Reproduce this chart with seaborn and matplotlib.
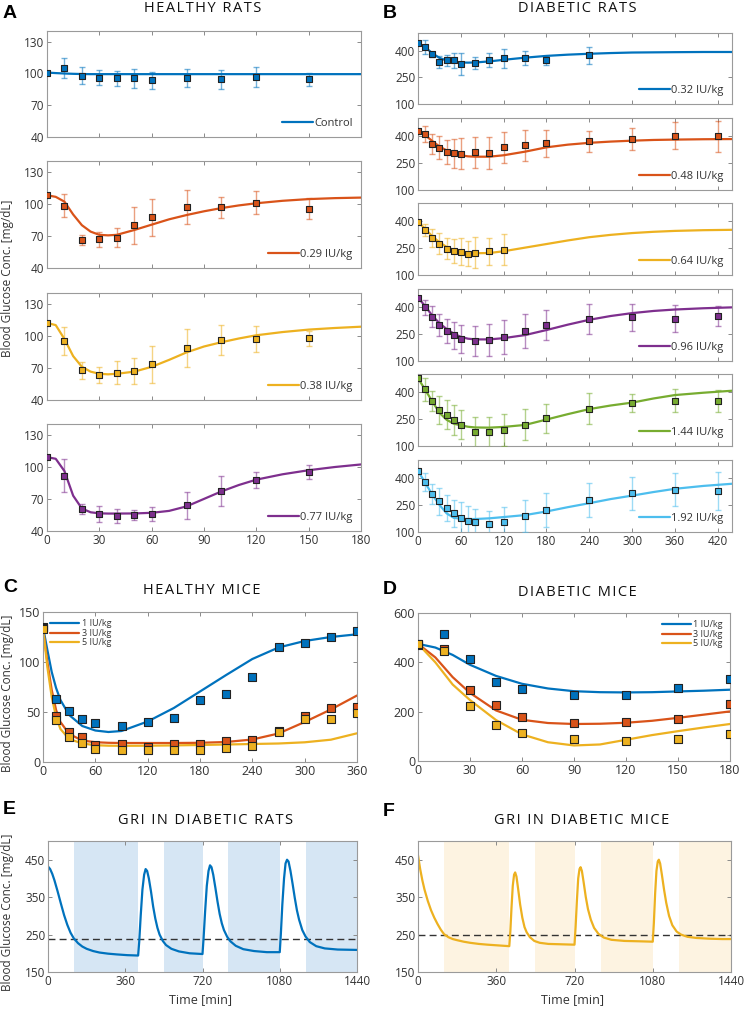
import matplotlib
matplotlib.use("Agg")
import matplotlib.pyplot as plt
import seaborn as sns
from matplotlib.colors import to_rgba

# ---------------- DATA ----------------
# Panel A: healthy rats
A_t = [0, 10, 20, 30, 40, 50, 60, 80, 100, 120, 150]
A_ctrl_y = [100.6, 104.7, 97.8, 96.0, 95.3, 95.6, 93.7, 96.0, 94.3, 96.5, 94.3]
A_ctrl_e = [0, 9.5, 8, 7, 7, 9, 8, 8.5, 9, 9.5, 6]
A_029_y = [108.1, 98.4, 66.4, 66.7, 68.5, 79.8, 87.2, 96.9, 96.6, 101.2, 95.6]
A_029_e = [0, 11, 4.5, 7, 9, 17, 17.5, 16, 10, 10.5, 10]
A_038_y = [112.1, 95.3, 67.7, 63.4, 65.6, 67.1, 73.3, 88.5, 96.0, 96.9, 97.5]
A_038_e = [0, 13, 8, 7.5, 10.5, 12.5, 17, 18, 14, 12, 7]
A_077_y = [109.0, 91.6, 60.6, 56.2, 54.3, 55.0, 56.2, 64.0, 77.3, 87.9, 95.0]
A_077_e = [0, 15.5, 5, 7.5, 6.5, 5, 6.5, 12.8, 14, 7.5, 6.5]

A_fit_t = [0, 5, 10, 15, 20, 25, 30, 35, 40, 50, 60, 70, 80, 90, 100, 110, 120, 135, 150, 165, 180]
A_ctrl_fit = [100.8, 100.3, 99.9, 99.6, 99.4, 99.3, 99.3, 99.3, 99.3, 99.3, 99.3, 99.3, 99.3, 99.3,
              99.3, 99.3, 99.3, 99.3, 99.3, 99.3, 99.3]
A_029_fit = [108, 106.5, 102, 90, 80, 74, 71, 70.5, 71, 75.5, 80.5, 85.5, 89.5, 93, 96, 98.5,
             100.5, 102.8, 104.4, 105.3, 105.8]
A_038_fit = [112, 110, 97, 81, 71, 66.5, 64.5, 64, 64.5, 66.5, 71, 77.5, 84.5, 90, 94, 97.5,
             100.5, 103.5, 105.8, 107.3, 108.5]
A_077_fit = [109, 107.5, 96, 73, 61, 57.5, 56.5, 56.3, 56.3, 56.4, 57, 58.8, 63, 70, 77, 83,
             88, 93, 96.8, 99.8, 102.2]
A_labels = ["Control", "0.29 IU/kg", "0.38 IU/kg", "0.77 IU/kg"]

# Panel B: diabetic rats
B_t = [0, 10, 20, 30, 40, 50, 60, 80, 100, 120, 150, 180, 240, 300, 360, 420]
B1_t = [0, 10, 20, 30, 40, 50, 60, 80, 100, 120, 150, 180, 240]
B1_y = [441, 421, 379, 338, 346, 346, 327, 331, 348, 357, 359, 346, 374]
B1_e = [0, 39, 12, 34, 31, 44, 63, 31, 38, 53, 39, 27, 49]
B2_y = [430, 411, 355, 335, 312, 303, 301, 309, 307, 337, 348, 359, 370, 383, 402, 398]
B2_e = [0, 44, 54, 63, 68, 78, 86, 85, 88, 85, 86, 76, 60, 62, 75, 85]
B3_t = [0, 10, 20, 30, 40, 50, 60, 70, 80, 100, 120]
B3_y = [392, 349, 305, 274, 246, 233, 230, 218, 225, 231, 241]
B3_e = [0, 35, 52, 58, 58, 66, 74, 69, 85, 76, 88]
B4_y = [452, 398, 346, 301, 267, 243, 222, 211, 218, 233, 267, 301, 334, 342, 336, 351]
B4_e = [0, 40, 58, 60, 69, 75, 80, 84, 89, 93, 96, 85, 84, 76, 73, 54]
B5_y = [476, 415, 348, 299, 275, 244, 218, 178, 178, 188, 219, 253, 307, 340, 352, 350]
B5_e = [0, 63, 55, 79, 82, 84, 80, 84, 84, 90, 85, 81, 86, 51, 65, 59]
B6_t = [0, 10, 20, 30, 40, 50, 60, 70, 80, 100, 120, 150, 180, 240, 300, 360, 420]
B6_y = [438, 377, 313, 272, 234, 204, 178, 163, 153, 144, 157, 189, 223, 278, 315, 336, 328]
B6_e = [0, 50, 55, 75, 72, 75, 87, 80, 75, 70, 80, 89, 94, 94, 92, 92, 107]

B_fit_t = [0, 10, 20, 30, 40, 50, 60, 70, 80, 100, 120, 150, 180, 210, 240, 270, 300, 330, 360, 400, 440]
B1_fit = [441, 420, 386, 360, 345, 337, 334, 333, 334, 340, 349, 361, 371, 378, 383, 387, 390, 391, 392, 393, 393]
B2_fit = [430, 405, 372, 342, 320, 303, 293, 287, 285, 285, 293, 313, 337, 352, 362, 369, 374, 378, 380, 382, 383]
B3_fit = [393, 357, 315, 282, 256, 239, 229, 223, 221, 222, 232, 252, 272, 292, 310, 323, 333, 340, 345, 349, 351]
B4_fit = [452, 405, 352, 310, 278, 252, 234, 224, 220, 220, 227, 244, 272, 302, 329, 350, 366, 378, 386, 393, 398]
B5_fit = [477, 413, 348, 285, 246, 224, 215, 207, 203, 202, 206, 217, 247, 277, 305, 325, 341, 364, 383, 396, 407]
B6_fit = [440, 374, 308, 251, 204, 179, 173, 172, 172, 176, 183, 194, 214, 238, 260, 283, 302, 322, 340, 356, 368]
B_labels = ["0.32 IU/kg", "0.48 IU/kg", "0.64 IU/kg", "0.96 IU/kg", "1.44 IU/kg", "1.92 IU/kg"]

# Panel C: healthy mice
C_t = [0, 15, 30, 45, 60, 90, 120, 150, 180, 210, 240, 270, 300, 330, 360]
C1_y = [135, 63.3, 50.7, 43, 39.3, 35.7, 39.7, 44.3, 62.3, 68, 85, 114.7, 119.3, 124.7, 131.3]
C3_y = [134, 46, 30.3, 25, 17.3, 17.7, 14.7, 18, 18, 21.3, 22.3, 30.7, 45.7, 53.7, 54.7]
C5_y = [133, 42.3, 25.3, 19, 13, 12, 12, 12.3, 12.3, 13.7, 15.7, 30, 43, 43, 48.7]
C_fit_t = [0, 5, 10, 15, 20, 30, 45, 60, 75, 90, 120, 150, 180, 210, 240, 270, 300, 330, 360]
C1_fit = [135, 112, 90, 74, 62, 47, 36, 31.5, 30, 31, 40.5, 54, 70.5, 87, 103, 114.5, 121, 125, 127.7]
C3_fit = [134, 100, 72, 52, 40, 28, 21.5, 19.8, 19.2, 19, 19, 19, 19.2, 20, 22.5, 28.5, 40, 52.5, 66.5]
C5_fit = [134, 95, 65, 45, 33, 23, 18.5, 16.8, 16.3, 16.2, 16.3, 16.6, 17, 17.5, 18, 18.5, 19.7, 22.3, 28.7]
mice_labels = ["1 IU/kg", "3 IU/kg", "5 IU/kg"]

# Panel D: diabetic mice
D_t = [0, 15, 30, 45, 60, 90, 120, 150, 180]
D1_y = [473, 514, 412, 321, 293, 268, 268, 297, 334]
D3_y = [470, 455, 289, 227, 177, 154, 158, 172, 233]
D5_y = [474, 447, 225, 144, 115, 90, 83, 89, 111]
D_fit_t = [0, 10, 20, 30, 45, 60, 75, 90, 105, 120, 135, 150, 165, 180]
D1_fit = [475, 460, 430, 390, 345, 313, 294, 283, 279, 278, 279, 282, 285, 289]
D3_fit = [475, 420, 340, 276, 205, 167, 154, 150, 151, 155, 163, 175, 188, 201]
D5_fit = [475, 400, 310, 247, 166, 108, 76, 63, 67, 86, 105, 121, 136, 150]

# Panel E: GRI in diabetic rats (simulated profile)
E_t = [0, 10, 20, 30, 45, 60, 75, 90, 105, 120, 140, 160, 180, 210, 240, 280, 320, 370, 420,
       425, 432, 440, 448, 455, 462, 470, 480, 490, 500, 510, 520, 535, 550, 575, 610, 660, 720,
       725, 732, 740, 748, 755, 762, 770, 780, 790, 800, 810, 820, 835, 850, 875, 910, 960, 1020, 1080,
       1085, 1092, 1100, 1107, 1114, 1121, 1130, 1140, 1150, 1160, 1170, 1185, 1200, 1220, 1250, 1290, 1350, 1440]
E_y = [432, 425, 412, 395, 365, 333, 302, 276, 255, 240, 227, 218, 212, 206, 202, 199, 197, 195, 194,
       230, 300, 370, 410, 425, 420, 400, 365, 325, 293, 268, 250, 233, 222, 212, 205, 200, 198,
       240, 310, 380, 420, 435, 430, 410, 375, 338, 305, 280, 262, 244, 232, 220, 211, 206, 203, 203,
       250, 330, 400, 440, 450, 445, 420, 385, 348, 315, 290, 262, 245, 230, 219, 213, 210, 209]
E_bands = [(120, 420), (540, 720), (840, 1080), (1200, 1440)]
E_thresh = 238

# Panel F: GRI in diabetic mice (simulated profile)
F_t = [0, 10, 20, 30, 45, 60, 75, 90, 105, 120, 140, 160, 180, 210, 240, 280, 320, 370, 420,
       425, 430, 436, 442, 447, 453, 460, 470, 480, 490, 500, 515, 535, 560, 600, 660, 720,
       725, 731, 737, 743, 748, 754, 762, 772, 782, 795, 810, 830, 855, 890, 950, 1020, 1080,
       1085, 1091, 1097, 1103, 1108, 1114, 1122, 1132, 1142, 1155, 1170, 1190, 1210, 1240, 1280, 1340, 1400, 1440]
F_y = [462, 425, 395, 370, 340, 315, 295, 278, 263, 251, 243, 238, 235, 231, 228, 225, 223, 221, 219,
       260, 320, 380, 410, 416, 405, 375, 330, 295, 270, 256, 243, 233, 228, 225, 224, 223,
       270, 340, 400, 425, 430, 420, 390, 350, 318, 290, 268, 252, 242, 236, 233, 232, 231,
       280, 360, 420, 445, 450, 440, 410, 370, 335, 300, 275, 258, 250, 244, 241, 239, 238, 238]
F_bands = [(120, 420), (540, 720), (840, 1080), (1200, 1440)]
F_thresh = 250

# ---------------- STYLE ----------------
sns.set_theme(style="white")
plt.rcParams["font.family"] = ["Open Sans", "DejaVu Sans"]
plt.rcParams["axes.edgecolor"] = "#9a9a9a"
plt.rcParams["axes.linewidth"] = 0.8
plt.rcParams["xtick.color"] = "#8a8a8a"
plt.rcParams["ytick.color"] = "#8a8a8a"
plt.rcParams["xtick.labelcolor"] = "#333333"
plt.rcParams["ytick.labelcolor"] = "#333333"

BLUE, ORANGE, YELLOW = "#0072BD", "#D95319", "#EDB120"
PURPLE, GREEN, LBLUE = "#7E2F8E", "#77AC30", "#4DBEEE"

W, H = 746, 1010
fig = plt.figure(figsize=(W / 100, H / 100), dpi=100)


def add_ax(l, t, r, b):
    return fig.add_axes([l / W, 1 - b / H, (r - l) / W, (b - t) / H])


def style_ax(ax, fs):
    ax.tick_params(direction="in", top=True, right=True, length=3, width=0.7,
                   labelsize=fs, pad=2, bottom=True, left=True)
    for s in ax.spines.values():
        s.set_visible(True)
        s.set_color("#9a9a9a")


def draw_series(ax, t, y, e, ft, fy, color, label, ms=20):
    sns.lineplot(x=ft, y=fy, ax=ax, color=color, lw=1.6, label=label, zorder=2)
    if e is not None:
        ax.errorbar(t, y, yerr=e, fmt="none", ecolor=to_rgba(color, 0.55),
                    elinewidth=1.0, capsize=2.2, capthick=1.0, zorder=3)
    sns.scatterplot(x=t, y=y, ax=ax, marker="s", color=color, edgecolor="#222222",
                    linewidth=0.8, s=ms, zorder=4, legend=False)


def small_legend(ax, fs, loc="lower right"):
    ax.legend(loc=loc, frameon=False, fontsize=fs, handlelength=2.8,
              handletextpad=0.1, borderaxespad=0.35, labelcolor="#333333")


def spaced(s):
    return "\u200a".join(s)


# ---------------- PANEL A ----------------
A_rows = [(31, 137), (161, 268), (293, 400), (424, 531)]
A_sets = [(A_ctrl_y, A_ctrl_e, A_ctrl_fit, BLUE), (A_029_y, A_029_e, A_029_fit, ORANGE),
          (A_038_y, A_038_e, A_038_fit, YELLOW), (A_077_y, A_077_e, A_077_fit, PURPLE)]
for i, ((top, bot), (yy, ee, ff, col)) in enumerate(zip(A_rows, A_sets)):
    ax = add_ax(47, top, 361, bot)
    draw_series(ax, A_t, yy, ee, A_fit_t, ff, col, A_labels[i], ms=22)
    ax.set_xlim(0, 180)
    ax.set_ylim(40, 140)
    ax.set_yticks([40, 70, 100, 130])
    ax.set_xticks(range(0, 181, 30))
    style_ax(ax, 8.5)
    small_legend(ax, 8)
    if i < 3:
        ax.tick_params(labelbottom=False)

# ---------------- PANEL B ----------------
B_rows = [(33, 104), (118, 190), (203, 275), (289, 361), (374, 446), (460, 532)]
B_sets = [(B1_t, B1_y, B1_e, B1_fit, BLUE), (B_t, B2_y, B2_e, B2_fit, ORANGE),
          (B3_t, B3_y, B3_e, B3_fit, YELLOW), (B_t, B4_y, B4_e, B4_fit, PURPLE),
          (B_t, B5_y, B5_e, B5_fit, GREEN), (B6_t, B6_y, B6_e, B6_fit, LBLUE)]
for i, ((top, bot), (tt, yy, ee, ff, col)) in enumerate(zip(B_rows, B_sets)):
    ax = add_ax(418, top, 732, bot)
    draw_series(ax, tt, yy, ee, B_fit_t, ff, col, B_labels[i], ms=20)
    ax.set_xlim(0, 440)
    ax.set_ylim(100, 500)
    ax.set_yticks([100, 250, 400])
    ax.set_xticks(range(0, 421, 60))
    style_ax(ax, 8.5)
    small_legend(ax, 8)
    if i < 5:
        ax.tick_params(labelbottom=False)

# ---------------- PANEL C ----------------
axc = add_ax(43, 612, 357, 762)
for yy, ff, col, lab in zip([C1_y, C3_y, C5_y], [C1_fit, C3_fit, C5_fit],
                            [BLUE, ORANGE, YELLOW], mice_labels):
    draw_series(axc, C_t, yy, None, C_fit_t, ff, col, lab, ms=28)
axc.set_xlim(0, 360)
axc.set_ylim(0, 150)
axc.set_xticks(range(0, 361, 60))
axc.set_yticks([0, 50, 100, 150])
style_ax(axc, 9)
axc.legend(loc="upper left", frameon=False, fontsize=6.5, handlelength=3.2,
           handletextpad=0.3, labelspacing=0.05, borderaxespad=0.4, labelcolor="#333333")

# ---------------- PANEL D ----------------
axd = add_ax(418, 613, 730, 761)
for yy, ff, col, lab in zip([D1_y, D3_y, D5_y], [D1_fit, D3_fit, D5_fit],
                            [BLUE, ORANGE, YELLOW], mice_labels):
    draw_series(axd, D_t, yy, None, D_fit_t, ff, col, lab, ms=28)
axd.set_xlim(0, 180)
axd.set_ylim(0, 600)
axd.set_xticks(range(0, 181, 30))
axd.set_yticks([0, 200, 400, 600])
style_ax(axd, 9)
axd.legend(loc="upper right", frameon=False, fontsize=6.5, handlelength=3.2,
           handletextpad=0.3, labelspacing=0.05, borderaxespad=0.4, labelcolor="#333333")

# ---------------- PANELS E / F ----------------
for (l, r), tt, yy, bands, thr, col, band_col in [
        ((48, 357), E_t, E_y, E_bands, E_thresh, BLUE, "#D6E6F4"),
        ((418, 731), F_t, F_y, F_bands, F_thresh, YELLOW, "#FDF3E1")]:
    ax = add_ax(l, 841, r, 972)
    for a, b in bands:
        ax.axvspan(a, b, color=band_col, lw=0, zorder=0)
    ax.axhline(thr, color="#333333", ls=(0, (5, 3)), lw=1.0, zorder=1)
    sns.lineplot(x=tt, y=yy, ax=ax, color=col, lw=1.6, zorder=2)
    ax.set_xlim(0, 1440)
    ax.set_ylim(150, 500)
    ax.set_xticks([0, 360, 720, 1080, 1440])
    ax.set_yticks([150, 250, 350, 450])
    style_ax(ax, 8.5)
    fig.text(((l + r) / 2 - 2) / W, 1 - 1000 / H, "Time [min]", ha="center", va="center",
             fontsize=9, color="#333333")

# ---------------- TEXT ----------------
for txt, x, y in [("A", 3, 14), ("B", 383, 14), ("C", 3, 587), ("D", 383, 590),
                  ("E", 3, 809), ("F", 383, 812)]:
    fig.text(x / W, 1 - y / H, txt, ha="left", va="center", fontsize=14,
             fontweight="bold", family=["Liberation Sans", "DejaVu Sans"], color="black")

for txt, x, y in [("HEALTHY RATS", 203, 8), ("DIABETIC RATS", 577, 8),
                  ("HEALTHY MICE", 202, 591), ("DIABETIC MICE", 577, 592),
                  ("GRI IN DIABETIC RATS", 206, 821), ("GRI IN DIABETIC MICE", 582, 821)]:
    fig.text(x / W, 1 - y / H, spaced(txt), ha="center", va="center", fontsize=10.5,
             color="#111111")

for y in [278, 693, 912]:
    fig.text(8 / W, 1 - y / H, "Blood Glucose Conc. [mg/dL]", rotation=90, ha="center",
             va="center", fontsize=8.5, color="#333333")

fig.savefig("out.png", dpi=100, facecolor="white")
